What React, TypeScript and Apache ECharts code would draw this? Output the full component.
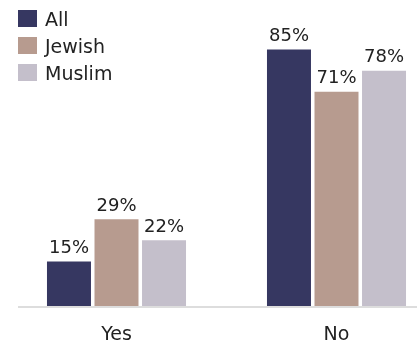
import React, { useEffect, useRef } from "react";
import * as echarts from "echarts";

const categories = ["Yes", "No"];
const seriesNames = ["All", "Jewish", "Muslim"];
const allValues = [15, 85];
const jewishValues = [29, 71];
const muslimValues = [22, 78];
const colors = ["#363761", "#b79b8f", "#c4bfcb"];

export default function App() {
  const ref = useRef<HTMLDivElement>(null);
  useEffect(() => {
    if (!ref.current) return;
    const chart = echarts.init(ref.current, undefined, { renderer: "svg" });
    const font = "DejaVu Sans";
    const dataSets = [allValues, jewishValues, muslimValues];
    chart.setOption({
      animation: false,
      textStyle: { fontFamily: font },
      legend: {
        orient: "vertical",
        left: 18,
        top: 9,
        padding: 0,
        itemWidth: 19,
        itemHeight: 17,
        itemGap: 8,
        icon: "rect",
        textStyle: { fontSize: 19, color: "#222", fontFamily: font, padding: [0, 0, 0, 3] },
        data: seriesNames,
      },
      grid: { left: 6.5, width: 440, top: 4, height: 303, outerBoundsMode: "none", containLabel: false },
      xAxis: {
        type: "category",
        data: categories,
        axisLine: { show: false },
        axisTick: { show: false },
        axisLabel: { fontSize: 19, color: "#222", margin: 16, fontFamily: font },
      },
      yAxis: { type: "value", min: 0, max: 100, show: false, splitLine: { show: false } },
      graphic: [
        {
          type: "line",
          shape: { x1: 18, y1: 307, x2: 417, y2: 307 },
          style: { stroke: "#dddddd", lineWidth: 2 },
          z: 10,
        },
      ],
      series: seriesNames.map((name, i) => ({
        name,
        type: "bar",
        data: dataSets[i],
        barWidth: 44,
        barGap: "8%",
        itemStyle: { color: colors[i] },
        label: {
          show: true,
          position: "top",
          distance: 6,
          formatter: "{c}%",
          fontSize: 18,
          color: "#222",
          fontFamily: font,
        },
      })),
    });
    return () => chart.dispose();
  }, []);
  return <div ref={ref} style={{ position: "fixed", left: 0, top: 0, width: 417, height: 345 }} />;
}
